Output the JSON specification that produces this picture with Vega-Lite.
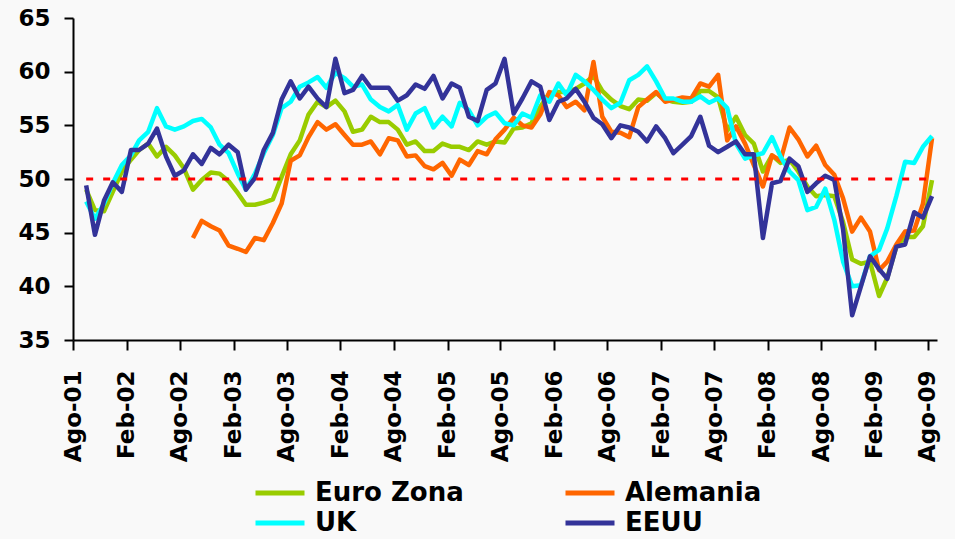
{
  "$schema": "https://vega.github.io/schema/vega-lite/v6.json",
  "width": 864,
  "height": 322,
  "autosize": {"type": "none"},
  "padding": {"left": 73, "top": 18, "right": 18, "bottom": 199},
  "background": "#f9f9f9",
  "config": {"view": {"stroke": null}, "font": "DejaVu Sans"},
  "layer": [
    {
      "data": {"values": [
        {"d":"2001-09-15","Euro Zona":49.0,"Alemania":null,"UK":47.9,"EEUU":49.4},
        {"d":"2001-10-15","Euro Zona":47.1,"Alemania":null,"UK":46.3,"EEUU":44.8},
        {"d":"2001-11-15","Euro Zona":47.0,"Alemania":null,"UK":47.7,"EEUU":48.0},
        {"d":"2001-12-15","Euro Zona":48.8,"Alemania":null,"UK":49.6,"EEUU":49.7},
        {"d":"2002-01-15","Euro Zona":50.7,"Alemania":null,"UK":51.3,"EEUU":48.8},
        {"d":"2002-02-15","Euro Zona":51.8,"Alemania":null,"UK":52.2,"EEUU":52.7},
        {"d":"2002-03-15","Euro Zona":52.7,"Alemania":null,"UK":53.6,"EEUU":52.7},
        {"d":"2002-04-15","Euro Zona":53.3,"Alemania":null,"UK":54.4,"EEUU":53.3},
        {"d":"2002-05-15","Euro Zona":52.1,"Alemania":null,"UK":56.6,"EEUU":54.7},
        {"d":"2002-06-15","Euro Zona":53.0,"Alemania":null,"UK":54.9,"EEUU":52.1},
        {"d":"2002-07-15","Euro Zona":52.2,"Alemania":null,"UK":54.6,"EEUU":50.3},
        {"d":"2002-08-15","Euro Zona":51.0,"Alemania":null,"UK":54.9,"EEUU":50.8},
        {"d":"2002-09-15","Euro Zona":49.0,"Alemania":44.5,"UK":55.4,"EEUU":52.3},
        {"d":"2002-10-15","Euro Zona":49.9,"Alemania":46.1,"UK":55.6,"EEUU":51.4},
        {"d":"2002-11-15","Euro Zona":50.6,"Alemania":45.6,"UK":54.8,"EEUU":52.9},
        {"d":"2002-12-15","Euro Zona":50.5,"Alemania":45.2,"UK":53.2,"EEUU":52.3},
        {"d":"2003-01-15","Euro Zona":49.8,"Alemania":43.8,"UK":52.4,"EEUU":53.2},
        {"d":"2003-02-15","Euro Zona":48.7,"Alemania":43.5,"UK":50.5,"EEUU":52.5},
        {"d":"2003-03-15","Euro Zona":47.6,"Alemania":43.2,"UK":49.0,"EEUU":49.0},
        {"d":"2003-04-15","Euro Zona":47.6,"Alemania":44.5,"UK":50.5,"EEUU":50.1},
        {"d":"2003-05-15","Euro Zona":47.8,"Alemania":44.3,"UK":52.4,"EEUU":52.7},
        {"d":"2003-06-15","Euro Zona":48.1,"Alemania":45.9,"UK":54.1,"EEUU":54.3},
        {"d":"2003-07-15","Euro Zona":50.2,"Alemania":47.7,"UK":56.6,"EEUU":57.4},
        {"d":"2003-08-15","Euro Zona":52.3,"Alemania":51.7,"UK":57.2,"EEUU":59.1},
        {"d":"2003-09-15","Euro Zona":53.6,"Alemania":52.2,"UK":58.6,"EEUU":57.5},
        {"d":"2003-10-15","Euro Zona":56.0,"Alemania":53.9,"UK":59.0,"EEUU":58.6},
        {"d":"2003-11-15","Euro Zona":57.2,"Alemania":55.3,"UK":59.5,"EEUU":57.5},
        {"d":"2003-12-15","Euro Zona":56.7,"Alemania":54.6,"UK":58.5,"EEUU":56.7},
        {"d":"2004-01-15","Euro Zona":57.3,"Alemania":55.1,"UK":59.9,"EEUU":61.2},
        {"d":"2004-02-15","Euro Zona":56.3,"Alemania":54.1,"UK":59.4,"EEUU":58.0},
        {"d":"2004-03-15","Euro Zona":54.4,"Alemania":53.2,"UK":58.6,"EEUU":58.3},
        {"d":"2004-04-15","Euro Zona":54.6,"Alemania":53.2,"UK":58.8,"EEUU":59.6},
        {"d":"2004-05-15","Euro Zona":55.8,"Alemania":53.5,"UK":57.4,"EEUU":58.5},
        {"d":"2004-06-15","Euro Zona":55.3,"Alemania":52.3,"UK":56.7,"EEUU":58.5},
        {"d":"2004-07-15","Euro Zona":55.3,"Alemania":53.8,"UK":56.3,"EEUU":58.5},
        {"d":"2004-08-15","Euro Zona":54.6,"Alemania":53.6,"UK":56.9,"EEUU":57.3},
        {"d":"2004-09-15","Euro Zona":53.2,"Alemania":52.1,"UK":54.6,"EEUU":57.8},
        {"d":"2004-10-15","Euro Zona":53.5,"Alemania":52.2,"UK":56.1,"EEUU":58.8},
        {"d":"2004-11-15","Euro Zona":52.6,"Alemania":51.2,"UK":56.6,"EEUU":58.4},
        {"d":"2004-12-15","Euro Zona":52.6,"Alemania":50.9,"UK":54.8,"EEUU":59.6},
        {"d":"2005-01-15","Euro Zona":53.3,"Alemania":51.5,"UK":55.8,"EEUU":57.5},
        {"d":"2005-02-15","Euro Zona":53.0,"Alemania":50.3,"UK":54.9,"EEUU":58.9},
        {"d":"2005-03-15","Euro Zona":53.0,"Alemania":51.8,"UK":57.1,"EEUU":58.5},
        {"d":"2005-04-15","Euro Zona":52.7,"Alemania":51.3,"UK":56.4,"EEUU":55.8},
        {"d":"2005-05-15","Euro Zona":53.5,"Alemania":52.6,"UK":55.0,"EEUU":55.4},
        {"d":"2005-06-15","Euro Zona":53.2,"Alemania":52.3,"UK":55.8,"EEUU":58.3},
        {"d":"2005-07-15","Euro Zona":53.5,"Alemania":53.7,"UK":56.2,"EEUU":58.9},
        {"d":"2005-08-15","Euro Zona":53.4,"Alemania":54.6,"UK":55.2,"EEUU":61.2},
        {"d":"2005-09-15","Euro Zona":54.7,"Alemania":55.7,"UK":55.0,"EEUU":56.1},
        {"d":"2005-10-15","Euro Zona":54.8,"Alemania":55.0,"UK":56.1,"EEUU":57.5},
        {"d":"2005-11-15","Euro Zona":55.2,"Alemania":54.8,"UK":55.7,"EEUU":59.1},
        {"d":"2005-12-15","Euro Zona":56.7,"Alemania":56.0,"UK":57.8,"EEUU":58.6},
        {"d":"2006-01-15","Euro Zona":58.0,"Alemania":58.1,"UK":57.2,"EEUU":55.5},
        {"d":"2006-02-15","Euro Zona":58.1,"Alemania":57.8,"UK":58.9,"EEUU":57.2},
        {"d":"2006-03-15","Euro Zona":58.1,"Alemania":56.7,"UK":57.8,"EEUU":57.5},
        {"d":"2006-04-15","Euro Zona":58.4,"Alemania":57.2,"UK":59.7,"EEUU":58.4},
        {"d":"2006-05-15","Euro Zona":58.9,"Alemania":56.4,"UK":59.1,"EEUU":57.2},
        {"d":"2006-06-15","Euro Zona":59.6,"Alemania":60.9,"UK":58.3,"EEUU":55.7},
        {"d":"2006-07-15","Euro Zona":58.2,"Alemania":55.8,"UK":57.4,"EEUU":55.1},
        {"d":"2006-08-15","Euro Zona":57.4,"Alemania":54.4,"UK":56.6,"EEUU":53.8},
        {"d":"2006-09-15","Euro Zona":56.8,"Alemania":54.3,"UK":57.1,"EEUU":55.0},
        {"d":"2006-10-15","Euro Zona":56.5,"Alemania":53.9,"UK":59.2,"EEUU":54.8},
        {"d":"2006-11-15","Euro Zona":57.4,"Alemania":56.7,"UK":59.7,"EEUU":54.4},
        {"d":"2006-12-15","Euro Zona":57.3,"Alemania":57.4,"UK":60.5,"EEUU":53.5},
        {"d":"2007-01-15","Euro Zona":58.0,"Alemania":58.1,"UK":59.1,"EEUU":54.9},
        {"d":"2007-02-15","Euro Zona":57.4,"Alemania":57.2,"UK":57.5,"EEUU":53.8},
        {"d":"2007-03-15","Euro Zona":57.2,"Alemania":57.4,"UK":57.5,"EEUU":52.4},
        {"d":"2007-04-15","Euro Zona":57.1,"Alemania":57.6,"UK":57.2,"EEUU":53.2},
        {"d":"2007-05-15","Euro Zona":57.2,"Alemania":57.5,"UK":57.2,"EEUU":54.0},
        {"d":"2007-06-15","Euro Zona":58.2,"Alemania":58.9,"UK":57.7,"EEUU":55.8},
        {"d":"2007-07-15","Euro Zona":58.2,"Alemania":58.6,"UK":57.1,"EEUU":53.1},
        {"d":"2007-08-15","Euro Zona":57.6,"Alemania":59.7,"UK":57.5,"EEUU":52.5},
        {"d":"2007-09-15","Euro Zona":54.5,"Alemania":53.6,"UK":56.6,"EEUU":53.0},
        {"d":"2007-10-15","Euro Zona":55.8,"Alemania":54.9,"UK":53.3,"EEUU":53.5},
        {"d":"2007-11-15","Euro Zona":54.1,"Alemania":53.3,"UK":51.9,"EEUU":52.3},
        {"d":"2007-12-15","Euro Zona":53.3,"Alemania":51.3,"UK":52.2,"EEUU":52.3},
        {"d":"2008-01-15","Euro Zona":50.7,"Alemania":49.3,"UK":52.4,"EEUU":44.5},
        {"d":"2008-02-15","Euro Zona":52.2,"Alemania":52.2,"UK":53.9,"EEUU":49.6},
        {"d":"2008-03-15","Euro Zona":51.5,"Alemania":51.7,"UK":52.1,"EEUU":49.8},
        {"d":"2008-04-15","Euro Zona":51.8,"Alemania":54.8,"UK":50.7,"EEUU":51.9},
        {"d":"2008-05-15","Euro Zona":50.7,"Alemania":53.7,"UK":49.9,"EEUU":51.2},
        {"d":"2008-06-15","Euro Zona":49.3,"Alemania":52.1,"UK":47.1,"EEUU":48.8},
        {"d":"2008-07-15","Euro Zona":48.4,"Alemania":53.1,"UK":47.4,"EEUU":49.6},
        {"d":"2008-08-15","Euro Zona":48.5,"Alemania":51.3,"UK":49.1,"EEUU":50.3},
        {"d":"2008-09-15","Euro Zona":48.4,"Alemania":50.4,"UK":46.2,"EEUU":49.9},
        {"d":"2008-10-15","Euro Zona":46.0,"Alemania":48.2,"UK":42.3,"EEUU":45.3},
        {"d":"2008-11-15","Euro Zona":42.5,"Alemania":45.1,"UK":40.0,"EEUU":37.3},
        {"d":"2008-12-15","Euro Zona":42.1,"Alemania":46.4,"UK":40.1,"EEUU":40.0},
        {"d":"2009-01-15","Euro Zona":42.3,"Alemania":45.1,"UK":42.8,"EEUU":42.8},
        {"d":"2009-02-15","Euro Zona":39.1,"Alemania":41.5,"UK":43.4,"EEUU":41.6},
        {"d":"2009-03-15","Euro Zona":40.8,"Alemania":42.3,"UK":45.4,"EEUU":40.7},
        {"d":"2009-04-15","Euro Zona":43.7,"Alemania":43.9,"UK":48.4,"EEUU":43.7},
        {"d":"2009-05-15","Euro Zona":44.6,"Alemania":45.1,"UK":51.6,"EEUU":43.9},
        {"d":"2009-06-15","Euro Zona":44.6,"Alemania":45.2,"UK":51.5,"EEUU":46.9},
        {"d":"2009-07-15","Euro Zona":45.6,"Alemania":47.7,"UK":53.0,"EEUU":46.4},
        {"d":"2009-08-15","Euro Zona":49.9,"Alemania":53.8,"UK":54.0,"EEUU":48.4}
      ]},
      "transform": [{"fold": ["Euro Zona", "Alemania", "UK", "EEUU"], "as": ["serie", "valor"]}],
      "mark": {"type": "line", "strokeWidth": 4.5, "strokeJoin": "round"},
      "encoding": {
        "x": {
          "field": "d", "type": "temporal",
          "scale": {"domain": [{"year": 2001, "month": 8, "date": 1}, {"year": 2009, "month": 9, "date": 1}]},
          "axis": {
            "title": null, "grid": false,
            "values": [
              {"year": 2001, "month": 8, "date": 1}, {"year": 2002, "month": 2, "date": 1},
              {"year": 2002, "month": 8, "date": 1}, {"year": 2003, "month": 2, "date": 1},
              {"year": 2003, "month": 8, "date": 1}, {"year": 2004, "month": 2, "date": 1},
              {"year": 2004, "month": 8, "date": 1}, {"year": 2005, "month": 2, "date": 1},
              {"year": 2005, "month": 8, "date": 1}, {"year": 2006, "month": 2, "date": 1},
              {"year": 2006, "month": 8, "date": 1}, {"year": 2007, "month": 2, "date": 1},
              {"year": 2007, "month": 8, "date": 1}, {"year": 2008, "month": 2, "date": 1},
              {"year": 2008, "month": 8, "date": 1}, {"year": 2009, "month": 2, "date": 1},
              {"year": 2009, "month": 8, "date": 1}
            ],
            "labelExpr": "(month(datum.value) == 7 ? 'Ago' : 'Feb') + '-' + timeFormat(datum.value, '%y')",
            "labelAngle": -90, "labelAlign": "right", "labelBaseline": "middle",
            "labelFont": "DejaVu Sans", "labelFontSize": 23, "labelFontWeight": "bold", "labelColor": "#000000",
            "labelPadding": 20, "labelOverlap": false, "labelFlush": false,
            "tickSize": 10, "tickWidth": 2, "tickColor": "#000000",
            "domainColor": "#000000", "domainWidth": 2
          }
        },
        "y": {
          "field": "valor", "type": "quantitative",
          "scale": {"domain": [35, 65], "nice": false, "zero": false},
          "axis": {
            "title": null, "grid": false, "values": [35, 40, 45, 50, 55, 60, 65],
            "labelFont": "DejaVu Sans", "labelFontSize": 23, "labelFontWeight": "bold", "labelColor": "#000000",
            "labelPadding": 14, "tickSize": 9, "tickWidth": 2, "tickColor": "#000000",
            "domainColor": "#000000", "domainWidth": 2
          }
        },
        "color": {
          "field": "serie", "type": "nominal",
          "scale": {"domain": ["Euro Zona", "Alemania", "UK", "EEUU"], "range": ["#99cc00", "#ff6600", "#00ffff", "#333399"]},
          "legend": {
            "title": null, "orient": "none", "direction": "horizontal", "legendX": 180, "legendY": 462,
            "columns": 2, "columnPadding": 99, "rowPadding": 4, "clipHeight": 26,
            "symbolType": "stroke", "symbolSize": 2401, "symbolStrokeWidth": 5,
            "labelFont": "DejaVu Sans", "labelFontSize": 26, "labelFontWeight": "bold", "labelColor": "#000000",
            "labelOffset": 8
          }
        }
      }
    },
    {
      "data": {"values": [{}]},
      "mark": {"type": "rule", "color": "#ff0000", "strokeWidth": 3, "strokeDash": [7, 10]},
      "encoding": {
        "x": {"datum": {"year": 2001, "month": 9, "date": 15}, "type": "temporal"},
        "x2": {"datum": {"year": 2009, "month": 8, "date": 15}},
        "y": {"datum": 50, "type": "quantitative"}
      }
    }
  ]
}
